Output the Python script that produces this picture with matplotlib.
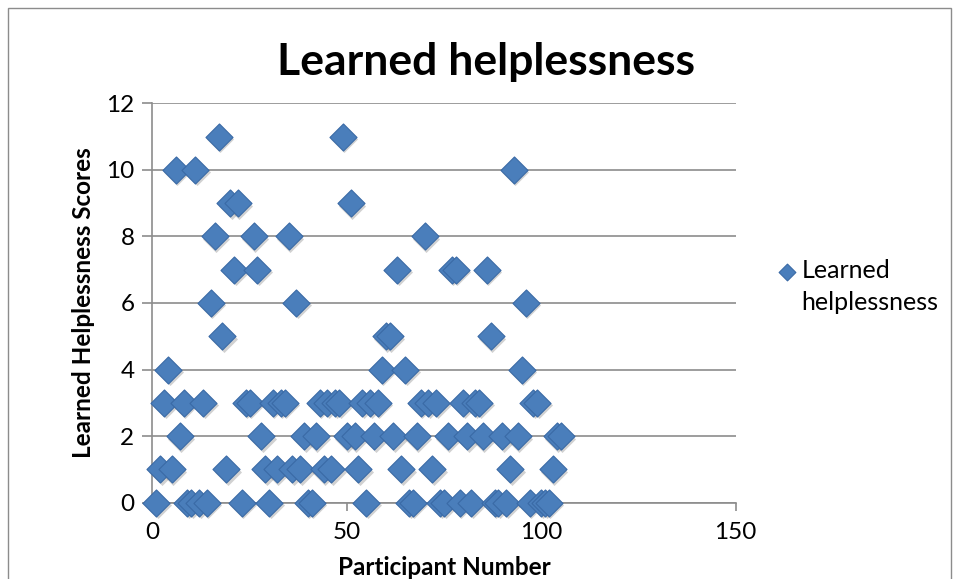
import matplotlib.pyplot as plt
import matplotlib.transforms as mtransforms
from matplotlib.patches import Rectangle

# participant number -> learned helplessness score
participants = list(range(1, 106))
scores = [0, 1, 3, 4, 1, 10, 2, 3, 0, 0,
          10, 0, 3, 0, 6, 8, 11, 5, 1, 9,
          7, 9, 0, 3, 3, 8, 7, 2, 1, 0,
          3, 1, 3, 3, 8, 1, 6, 1, 2, 0,
          0, 2, 3, 1, 3, 1, 3, 3, 11, 2,
          9, 2, 1, 3, 0, 3, 2, 3, 4, 5,
          5, 2, 7, 1, 4, 0, 0, 2, 3, 8,
          3, 1, 3, 0, 0, 2, 7, 7, 0, 3,
          2, 0, 3, 3, 2, 7, 5, 0, 0, 2,
          0, 1, 10, 2, 4, 6, 0, 3, 3, 0,
          0, 0, 1, 2, 2]

x_ticks = [0, 50, 100, 150]
y_ticks = [0, 2, 4, 6, 8, 10, 12]

title = "Learned helplessness"
series_name = ["Learned", "helplessness"]  # wrapped over two lines in the legend

plt.rcParams['font.family'] = ['Lato', 'DejaVu Sans']

fig = plt.figure(figsize=(9.59, 5.79), dpi=100)
ax = fig.add_axes([0.159, 0.1318, 0.608, 0.6898])

blue = "#4a7ebb"
edge = "#3a6aa6"

# soft drop shadow under each diamond
shadow_tr = mtransforms.offset_copy(ax.transData, fig=fig, x=1.5, y=-2.5, units='dots')
ax.scatter(participants, scores, marker='D', s=190, color='#000000', alpha=0.18,
           linewidths=0, transform=shadow_tr, zorder=2, clip_on=False)
ax.scatter(participants, scores, marker='D', s=190, facecolor=blue, edgecolor=edge,
           linewidths=0.8, zorder=3, clip_on=False, label=series_name[0])

ax.set_xlim(0, 150)
ax.set_ylim(0, 12)
ax.set_xticks(x_ticks)
ax.set_yticks(y_ticks)

ax.yaxis.grid(True, color='#8c8c8c', linewidth=1.2)
ax.set_axisbelow(True)
for side in ['top', 'right']:
    ax.spines[side].set_visible(False)
for side in ['left', 'bottom']:
    ax.spines[side].set_color('#8c8c8c')
    ax.spines[side].set_linewidth(1.2)

ax.tick_params(axis='y', direction='out', length=7, width=1.2, color='#8c8c8c',
               labelsize=17.5, pad=6)
ax.tick_params(axis='x', direction='out', length=6, width=1.2, color='#8c8c8c',
               labelsize=17.5, pad=8)

ax.set_xlabel("Participant Number", fontsize=17.5, fontweight='bold', labelpad=9)
ax.set_ylabel("Learned Helplessness Scores", fontsize=17.5, fontweight='bold', labelpad=8)
fig.text(0.507, 0.893, title, ha='center', va='center', fontsize=32, fontweight='bold')

leg = ax.legend(loc='center left', bbox_to_anchor=(766.5 / 959, 1 - 271 / 579),
                bbox_transform=fig.transFigure, frameon=False, fontsize=18,
                markerscale=0.62, handlelength=0.6, handletextpad=0.3, borderpad=0)

# second line of the legend label, aligned under the first
fig.canvas.draw()
bb = leg.get_texts()[0].get_window_extent()
fig.text(bb.x0 / 959, 1 - 302 / 579, series_name[1], ha='left', va='center', fontsize=18)

# outer chart border
fig.patches.append(Rectangle((8 / 959, -0.05), (951 - 8) / 959, 1.05 - 8 / 579,
                             transform=fig.transFigure, fill=False,
                             edgecolor='#8c8c8c', linewidth=1.0))

fig.savefig("out.png", dpi=100)
